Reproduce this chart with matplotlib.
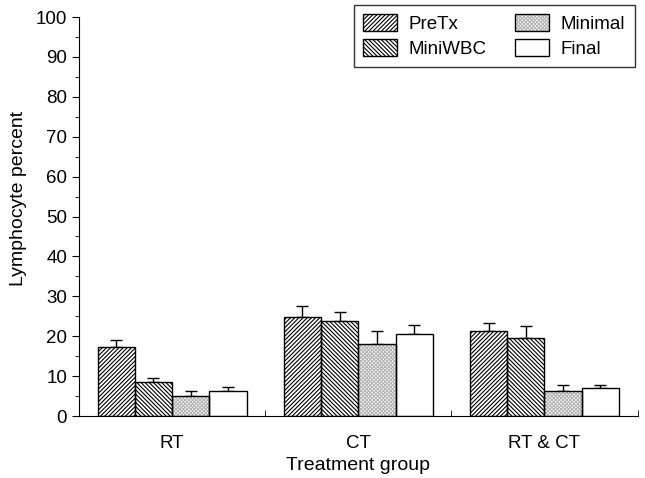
import numpy as np
import matplotlib
matplotlib.use("Agg")
import matplotlib.pyplot as plt
from matplotlib.patches import Patch

plt.rcParams["font.family"] = ["Liberation Sans", "DejaVu Sans"]
plt.rcParams["hatch.linewidth"] = 0.8

# ── data ───────────────────────────────────────────────────────────────
groups = ["RT", "CT", "RT & CT"]
series = ["PreTx", "MiniWBC", "Minimal", "Final"]
pretx = [17.2, 24.7, 21.3]
pretx_err = [1.8, 2.9, 2.1]
miniwbc = [8.6, 23.9, 19.5]
miniwbc_err = [0.8, 2.1, 3.0]
minimal = [5.1, 18.0, 6.3]
minimal_err = [1.2, 3.4, 1.4]
final = [6.3, 20.6, 6.9]
final_err = [0.9, 2.3, 0.9]

values = [pretx, miniwbc, minimal, final]
errors = [pretx_err, miniwbc_err, minimal_err, final_err]
hatches = ["/" * 8, "\\" * 8, "x" * 9, ""]
hatch_cols = ["black", "black", "#b4b4b4", "black"]

fig = plt.figure(figsize=(6.45, 4.78), dpi=100)
ax = fig.add_axes([0.1225, 0.1297, 0.866, 0.8347])

x = np.arange(len(groups))
w = 0.2
for i, (vals, errs) in enumerate(zip(values, errors)):
    pos = x + (i - 1.5) * w
    # hatch layer (coloured) then black outline on top
    ax.bar(pos, vals, w, color="white", edgecolor=hatch_cols[i],
           hatch=hatches[i], linewidth=0, zorder=2)
    ax.bar(pos, vals, w, color="none", edgecolor="black", linewidth=1.0, zorder=3)
    ax.errorbar(pos, vals, yerr=[np.zeros(len(errs)), errs], fmt="none",
                ecolor="black", elinewidth=1.0, capsize=4, capthick=1.0, zorder=1)

ax.set_xlim(-0.5, 2.5)
ax.set_ylim(0, 100)
ax.set_yticks(np.arange(0, 101, 10))
ax.set_yticks(np.arange(0, 101, 5), minor=True)
ax.set_xticks(x)
ax.set_xticklabels(groups)
ax.set_xticks(np.arange(-0.5, 2.6, 1), minor=True)
ax.tick_params(axis="x", which="major", length=0, pad=14, labelsize=13.5)
ax.tick_params(axis="x", which="minor", length=4, direction="in")
ax.tick_params(axis="y", which="major", length=5, labelsize=13.5)
ax.tick_params(axis="y", which="minor", length=3)
for s in ["top", "right"]:
    ax.spines[s].set_visible(False)
ax.set_xlabel("Treatment group", fontsize=14, labelpad=3)
ax.set_ylabel("Lymphocyte percent", fontsize=14)
ax.yaxis.set_label_coords(-0.093, 0.546)

handles = []
for i, name in enumerate(series):
    fill = Patch(facecolor="white", edgecolor=hatch_cols[i], hatch=hatches[i],
                 linewidth=0)
    edge = Patch(facecolor="none", edgecolor="black", linewidth=1.0)
    handles.append((fill, edge))
leg = ax.legend(handles=handles, labels=series, ncol=2, loc="upper right",
                bbox_to_anchor=(0.995, 1.03), fontsize=13.5, frameon=True,
                fancybox=False, edgecolor="black", handlelength=1.8,
                handleheight=1.0, handletextpad=0.65, columnspacing=1.5,
                borderpad=0.5, labelspacing=0.3, borderaxespad=0)
leg.get_frame().set_linewidth(1.0)

fig.savefig("out.png", dpi=100)
